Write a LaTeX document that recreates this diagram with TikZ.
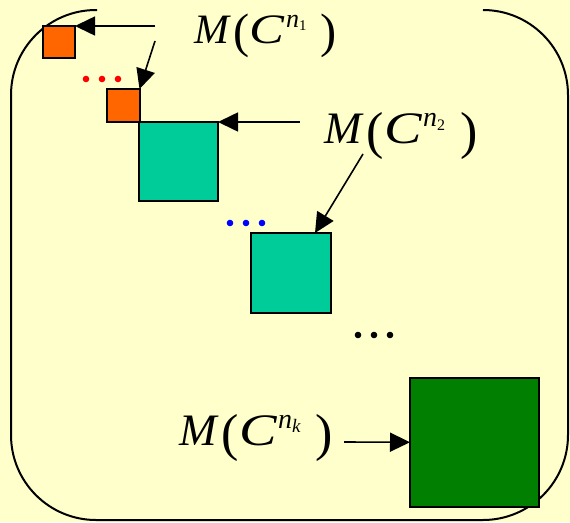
\documentclass[tikz,border=0pt]{standalone}
\usepackage{fontspec}
\setmainfont{Liberation Serif}
\usetikzlibrary{arrows.meta}
\definecolor{bg}{HTML}{FFFFCC}
\definecolor{orangebox}{HTML}{FF6600}
\definecolor{tealbox}{HTML}{00CC99}
\definecolor{greenbox}{HTML}{007F00}
\newcommand{\bigparen}[1]{\raisebox{-5pt}{\fontsize{52}{52}\selectfont #1}}
\newcommand{\mcexpr}[1]{\textit{M}\kern3pt\bigparen{(}\kern0pt\scalebox{1.25}[1]{\textit{C}}\kern1pt\raisebox{17pt}{\fontsize{28}{28}\selectfont\textit{n}\kern0pt\raisebox{-4pt}{\fontsize{16}{16}\selectfont #1}}\kern15pt\bigparen{)}}
\begin{document}
\begin{tikzpicture}[x=1pt,y=-1pt,
  sqbox/.style={draw=black,line width=2pt,anchor=north west,inner sep=0pt,outer sep=0pt},
  arr/.style={line width=1.6pt,-{Triangle[length=20pt,width=19pt]}},
  frameline/.style={line width=2pt,rounded corners=85pt},
  lbl/.style={inner sep=0pt,anchor=base west,font=\fontsize{45}{50}\selectfont},
  dot/.style={radius=3.3pt}]
\fill[bg] (0,0) rectangle (570,522);
\useasboundingbox (0,0) rectangle (570,522);
% frame
\draw[frameline] (97,10) -- (11,10) -- (11,520) -- (568,520) -- (568,10) -- (485,10);
% boxes
\node[sqbox,fill=orangebox,minimum size=32pt] (o1) at (43,26) {};
\node[sqbox,fill=orangebox,minimum size=32.5pt] (o2) at (107,89) {};
\node[sqbox,fill=tealbox,minimum size=79pt] (t1) at (139,122) {};
\node[sqbox,fill=tealbox,minimum size=80pt] (t2) at (251,233) {};
\node[sqbox,fill=greenbox,minimum size=128.5pt] (g) at (410,378) {};
% dots
\fill[red] (86,79) circle[dot] (102,79) circle[dot] (118,79) circle[dot];
\fill[blue] (230,223) circle[dot] (246,223) circle[dot] (262,223) circle[dot];
\fill[black] (358,335) circle[dot] (374,335) circle[dot] (390,335) circle[dot];
% labels
\node[lbl] (l1) at (194,43) {\scalebox{0.93}{\mcexpr{1}}};
\node[lbl] (l2) at (324,143) {\mcexpr{2}};
\node[lbl] (l3) at (179,445) {\mcexpr{\fontsize{19}{19}\selectfont\textit{k}}};
% arrows
\coordinate (a1s) at (155,26);
\coordinate (a2s) at (155,41);
\coordinate (a3s) at (300,122);
\coordinate (a4s) at (363,154);
\coordinate (a4e) at (315,233);
\coordinate (a5s) at (344,442);
\draw[arr] (a1s) -- (o1.north east);
\draw[arr] (a2s) -- (o2.north east);
\draw[arr] (a3s) -- (t1.north east);
\draw[arr] (a4s) -- (a4e);
\draw[arr] (a5s) -- (g.west);
\end{tikzpicture}
\end{document}
